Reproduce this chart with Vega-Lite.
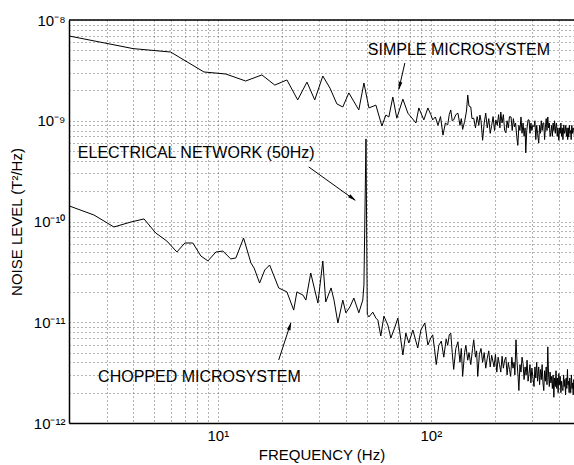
{
  "$schema": "https://vega.github.io/schema/vega-lite/v6.json",
  "autosize": {"type": "none"},
  "padding": {"left": 69, "top": 20, "right": 0, "bottom": 42},
  "width": 505,
  "height": 403,
  "background": "white",
  "config": {
    "view": {"stroke": null},
    "font": "Liberation Sans",
    "axis": {"labelFont": "Liberation Sans", "titleFont": "Liberation Sans", "labelColor": "black", "titleColor": "black", "titleFontWeight": "normal"}
  },
  "datasets": {
    "simple": [
      {"f":2,"v":6.94e-9},{"f":4.0,"v":5.2e-9},{"f":6.0,"v":4.81e-9},{"f":8.6,"v":3.05e-9},{"f":10.9,"v":2.91e-9},{"f":13.5,"v":2.48e-9},{"f":16.1,"v":2.85e-9},{"f":18.5,"v":2.26e-9},{"f":21.1,"v":2.54e-9},{"f":23.7,"v":1.61e-9},{"f":26.2,"v":2.42e-9},{"f":28.5,"v":1.61e-9},{"f":31.1,"v":2.78e-9},{"f":33.6,"v":2.11e-9},{"f":36.2,"v":1.47e-9},{"f":38.6,"v":1.37e-9},{"f":41.2,"v":1.89e-9},{"f":45.9,"v":1.28e-9},{"f":48.5,"v":2.37e-9},{"f":51.2,"v":1.34e-9},{"f":55.2,"v":1.43e-9},{"f":58.9,"v":8.87e-10},{"f":61.5,"v":1.14e-9},{"f":63.5,"v":1.09e-9},{"f":66.3,"v":1.72e-9},{"f":69.2,"v":1.06e-9},{"f":73.9,"v":1.64e-9},{"f":78.0,"v":1.19e-9},{"f":85.1,"v":9.5e-10},{"f":87.8,"v":1.34e-9},{"f":92.7,"v":1.02e-9},{"f":96.8,"v":1.34e-9},
      {"f":100,"v":1.15e-9},{"f":102,"v":1.02e-9},{"f":105,"v":1.09e-9},{"f":108,"v":9.0e-10},{"f":111,"v":1.10e-9},{"f":114,"v":7.2e-10},{"f":117,"v":9.5e-10},{"f":120,"v":9.1e-10},{"f":122,"v":1.15e-9},{"f":124,"v":1.28e-9},{"f":126,"v":1.0e-9},{"f":128,"v":1.02e-9},{"f":131,"v":1.15e-9},{"f":134,"v":1.19e-9},{"f":137,"v":9.0e-10},{"f":139,"v":1.05e-9},{"f":141,"v":8.2e-10},{"f":144,"v":9.8e-10},{"f":147,"v":1.25e-9},{"f":149,"v":1.8e-9},{"f":151,"v":1.4e-9},{"f":154,"v":1.37e-9},{"f":156,"v":1.05e-9},{"f":159,"v":1.06e-9},{"f":162,"v":8.5e-10},{"f":165,"v":1.1e-9},{"f":168,"v":9.0e-10},{"f":170,"v":1.14e-9},{"f":172,"v":1.0e-9},{"f":175,"v":6.4e-10},{"f":178,"v":9.5e-10},{"f":181,"v":1.19e-9},{"f":184,"v":8.5e-10},{"f":187,"v":1.05e-9},{"f":190,"v":7.5e-10},{"f":193,"v":9.0e-10},{"f":196,"v":1.1e-9},{"f":199,"v":8.0e-10},{"f":202,"v":1.02e-9},{"f":205,"v":9.0e-10},{"f":208,"v":1.15e-9},{"f":211,"v":8.5e-10},{"f":213,"v":1.22e-9},{"f":216,"v":9.5e-10},{"f":219,"v":1.15e-9},{"f":222,"v":8.0e-10},{"f":225,"v":7.6e-10},{"f":228,"v":1.0e-9},{"f":231,"v":8.5e-10},{"f":234,"v":1.1e-9},{"f":238,"v":1.09e-9},{"f":241,"v":8.0e-10},{"f":244,"v":1.05e-9},{"f":247,"v":8.7e-10},{"f":250,"v":9.5e-10},{"f":253,"v":7.0e-10},{"f":256,"v":5.7e-10},{"f":259,"v":9.0e-10},{"f":262,"v":8.0e-10},{"f":265,"v":1.09e-9},{"f":268,"v":7.5e-10},{"f":271,"v":9.5e-10},{"f":274,"v":7.0e-10},{"f":277,"v":8.5e-10},{"f":279,"v":4.8e-10},{"f":282,"v":8.0e-10},{"f":286,"v":1.02e-9},{"f":289,"v":1.02e-9},{"f":292,"v":7.5e-10},{"f":295,"v":9.5e-10},{"f":298,"v":8.0e-10},{"f":301,"v":9.0e-10},{"f":305,"v":8.7e-10},{"f":308,"v":1.0e-9},{"f":311,"v":6.5e-10},{"f":314,"v":9.0e-10},{"f":317,"v":7.5e-10},{"f":321,"v":6.0e-10},{"f":324,"v":9.0e-10},{"f":327,"v":7.5e-10},{"f":330,"v":1.0e-9},{"f":333,"v":8.0e-10},{"f":336,"v":9.5e-10},{"f":339,"v":9.5e-10},{"f":342,"v":6.5e-10},{"f":345,"v":8.5e-10},{"f":348,"v":1.05e-9},{"f":351,"v":8.0e-10},{"f":354,"v":1.09e-9},{"f":357,"v":8.5e-10},{"f":360,"v":9.5e-10},{"f":363,"v":7.0e-10},{"f":366,"v":7.6e-10},{"f":369,"v":9.0e-10},{"f":372,"v":7.0e-10},{"f":375,"v":9.5e-10},{"f":378,"v":8.0e-10},{"f":381,"v":1.0e-9},{"f":384,"v":7.5e-10},{"f":386,"v":8.7e-10},{"f":389,"v":9.5e-10},{"f":392,"v":7.0e-10},{"f":395,"v":8.5e-10},{"f":399,"v":6.4e-10},{"f":402,"v":8.5e-10},{"f":405,"v":7.5e-10},{"f":408,"v":9.5e-10},{"f":411,"v":7.0e-10},{"f":414,"v":8.5e-10},{"f":417,"v":6.5e-10},{"f":421,"v":9.1e-10},{"f":424,"v":7.5e-10},{"f":427,"v":8.0e-10},{"f":430,"v":9.0e-10},{"f":433,"v":7.0e-10},{"f":436,"v":8.5e-10},{"f":439,"v":6.5e-10},{"f":442,"v":8.5e-10},{"f":444,"v":6.9e-10},{"f":447,"v":9.0e-10},{"f":450,"v":7.5e-10},{"f":453,"v":8.0e-10},{"f":456,"v":6.5e-10},{"f":459,"v":9.0e-10},{"f":462,"v":7.5e-10},{"f":465,"v":8.5e-10},{"f":469,"v":8.1e-10},{"f":472,"v":7.0e-10}
    ],
    "chopped": [
      {"f":2,"v":1.43e-10},{"f":2.62,"v":1.16e-10},{"f":3.25,"v":8.82e-11},{"f":3.91,"v":9.89e-11},{"f":4.5,"v":1.06e-10},{"f":5.11,"v":7.69e-11},{"f":5.76,"v":6.4e-11},{"f":6.42,"v":4.98e-11},{"f":7.0,"v":6.12e-11},{"f":7.63,"v":6.12e-11},{"f":8.32,"v":4.55e-11},{"f":8.98,"v":4.06e-11},{"f":9.79,"v":4.98e-11},{"f":10.55,"v":5.09e-11},{"f":11.5,"v":4.25e-11},{"f":12.15,"v":4.35e-11},{"f":13.2,"v":6.86e-11},{"f":14.3,"v":3.87e-11},{"f":14.8,"v":3.45e-11},{"f":15.7,"v":2.45e-11},{"f":16.6,"v":3.3e-11},{"f":17.5,"v":3.7e-11},{"f":18.5,"v":2.75e-11},{"f":19.3,"v":2.19e-11},{"f":20.2,"v":2.09e-11},{"f":21.1,"v":2.0e-11},{"f":22.7,"v":1.32e-11},{"f":23.5,"v":2.0e-11},{"f":25.1,"v":1.86e-11},{"f":25.9,"v":1.66e-11},{"f":27.3,"v":3.08e-11},{"f":28.5,"v":2.09e-11},{"f":29.5,"v":1.55e-11},{"f":31.1,"v":4.06e-11},{"f":32.1,"v":1.59e-11},{"f":34.0,"v":2.19e-11},{"f":35.1,"v":1.66e-11},{"f":36.6,"v":9.84e-12},{"f":38.6,"v":1.66e-11},{"f":39.9,"v":1.24e-11},{"f":41.7,"v":1.42e-11},{"f":43.5,"v":1.74e-11},{"f":45.9,"v":1.24e-11},{"f":47.9,"v":1.66e-11},{"f":48.5,"v":2.34e-11},{"f":49.6,"v":6.6e-10},{"f":50.3,"v":1.2e-11},{"f":51.2,"v":1.13e-11},{"f":53.4,"v":1.26e-11},{"f":55.2,"v":1.1e-11},{"f":56.4,"v":1.05e-11},{"f":58.2,"v":7.3e-12},{"f":60.2,"v":1.15e-11},{"f":62.8,"v":9.4e-12},{"f":64.9,"v":6.98e-12},{"f":67.8,"v":8.97e-12},{"f":70.0,"v":1.1e-11},{"f":73.9,"v":4.73e-12},{"f":76.3,"v":7.82e-12},{"f":78.8,"v":6.22e-12},{"f":82.3,"v":8.38e-12},{"f":86.8,"v":5.55e-12},{"f":89.8,"v":8.38e-12},{"f":93.7,"v":9.84e-12},{"f":96.8,"v":5.94e-12},
      {"f":100,"v":7.0e-12},{"f":102,"v":7.5e-12},{"f":104,"v":5.5e-12},{"f":106,"v":3.8e-12},{"f":109,"v":5.9e-12},{"f":112,"v":6.5e-12},{"f":115,"v":4.5e-12},{"f":118,"v":6.8e-12},{"f":120,"v":5.9e-12},{"f":122,"v":7.5e-12},{"f":124,"v":7.8e-12},{"f":126,"v":5.0e-12},{"f":128,"v":3.4e-12},{"f":131,"v":5.5e-12},{"f":134,"v":6.4e-12},{"f":137,"v":4.0e-12},{"f":139,"v":5.5e-12},{"f":141,"v":2.9e-12},{"f":144,"v":5.0e-12},{"f":146,"v":5.9e-12},{"f":149,"v":4.2e-12},{"f":151,"v":5.0e-12},{"f":154,"v":3.8e-12},{"f":157,"v":5.5e-12},{"f":159,"v":6.7e-12},{"f":162,"v":4.5e-12},{"f":164,"v":5.2e-12},{"f":166,"v":2.9e-12},{"f":169,"v":4.8e-12},{"f":172,"v":5.5e-12},{"f":175,"v":4.0e-12},{"f":178,"v":5.0e-12},{"f":181,"v":3.5e-12},{"f":184,"v":4.4e-12},{"f":187,"v":5.2e-12},{"f":190,"v":3.6e-12},{"f":193,"v":4.7e-12},{"f":196,"v":4.0e-12},{"f":198,"v":3.6e-12},{"f":201,"v":4.8e-12},{"f":204,"v":3.2e-12},{"f":207,"v":4.5e-12},{"f":210,"v":3.8e-12},{"f":213,"v":3.2e-12},{"f":216,"v":4.6e-12},{"f":219,"v":3.5e-12},{"f":222,"v":4.2e-12},{"f":225,"v":4.5e-12},{"f":228,"v":3.0e-12},{"f":231,"v":4.0e-12},{"f":234,"v":3.4e-12},{"f":237,"v":2.9e-12},{"f":240,"v":4.5e-12},{"f":243,"v":3.5e-12},{"f":246,"v":4.0e-12},{"f":248,"v":3.0e-12},{"f":251,"v":6.7e-12},{"f":254,"v":4.0e-12},{"f":257,"v":2.8e-12},{"f":259,"v":2.1e-12},{"f":262,"v":3.8e-12},{"f":265,"v":3.2e-12},{"f":268,"v":4.5e-12},{"f":271,"v":3.9e-12},{"f":274,"v":2.7e-12},{"f":277,"v":3.6e-12},{"f":280,"v":3.0e-12},{"f":283,"v":4.2e-12},{"f":286,"v":2.6e-12},{"f":289,"v":3.1e-12},{"f":292,"v":3.8e-12},{"f":295,"v":2.5e-12},{"f":298,"v":3.5e-12},{"f":301,"v":2.9e-12},{"f":305,"v":2.3e-12},{"f":308,"v":3.6e-12},{"f":311,"v":2.8e-12},{"f":314,"v":4.0e-12},{"f":317,"v":2.6e-12},{"f":321,"v":3.6e-12},{"f":324,"v":2.4e-12},{"f":327,"v":3.4e-12},{"f":330,"v":2.7e-12},{"f":333,"v":3.8e-12},{"f":336,"v":2.5e-12},{"f":339,"v":2.1e-12},{"f":342,"v":3.3e-12},{"f":345,"v":2.6e-12},{"f":348,"v":3.6e-12},{"f":351,"v":2.4e-12},{"f":354,"v":5.7e-12},{"f":357,"v":3.0e-12},{"f":360,"v":2.3e-12},{"f":363,"v":3.2e-12},{"f":366,"v":2.5e-12},{"f":369,"v":2.9e-12},{"f":372,"v":2.2e-12},{"f":375,"v":3.0e-12},{"f":378,"v":1.8e-12},{"f":381,"v":2.8e-12},{"f":384,"v":2.3e-12},{"f":387,"v":3.3e-12},{"f":390,"v":2.2e-12},{"f":393,"v":2.8e-12},{"f":396,"v":2.0e-12},{"f":399,"v":3.1e-12},{"f":402,"v":2.4e-12},{"f":405,"v":2.9e-12},{"f":408,"v":2.0e-12},{"f":411,"v":2.6e-12},{"f":414,"v":2.2e-12},{"f":417,"v":2.1e-12},{"f":420,"v":3.0e-12},{"f":423,"v":2.3e-12},{"f":426,"v":2.7e-12},{"f":429,"v":1.9e-12},{"f":432,"v":2.8e-12},{"f":435,"v":2.2e-12},{"f":438,"v":3.4e-12},{"f":440,"v":2.4e-12},{"f":443,"v":2.6e-12},{"f":446,"v":2.0e-12},{"f":449,"v":2.8e-12},{"f":452,"v":2.1e-12},{"f":454,"v":2.0e-12},{"f":457,"v":3.0e-12},{"f":460,"v":2.2e-12},{"f":463,"v":2.5e-12},{"f":466,"v":1.9e-12},{"f":469,"v":2.7e-12},{"f":472,"v":2.2e-12}
    ],
    "arrows": [
      {"f":75.5,"v":3.74e-9,"f2":70.8,"v2":2.07e-9},
      {"f":26.7,"v":3.48e-10,"f2":44.0,"v2":1.63e-10},
      {"f":19.3,"v":4.22e-12,"f2":22.0,"v2":9.84e-12}
    ],
    "notes": [
      {"f":50.6,"v":5.03e-9,"label":"SIMPLE MICROSYSTEM"},
      {"f":2.2,"v":4.79e-10,"label":"ELECTRICAL NETWORK (50Hz)"},
      {"f":2.74,"v":2.86e-12,"label":"CHOPPED MICROSYSTEM"}
    ]
  },
  "layer": [
    {
      "data": {"name": "simple"},
      "mark": {"type": "line", "color": "black", "strokeWidth": 1, "clip": true},
      "encoding": {
        "x": {
          "field": "f", "type": "quantitative",
          "scale": {"type": "log", "domain": [2, 470], "nice": false, "zero": false},
          "axis": {
            "title": "FREQUENCY (Hz)",
            "values": [2,3,4,5,6,7,8,9,10,20,30,40,50,60,70,80,90,100,200,300,400],
            "labelExpr": "datum.value == 10 ? '10¹' : datum.value == 100 ? '10²' : ''",
            "labelOverlap": false, "labelFlush": false,
            "labelFontSize": 15, "labelPadding": 5,
            "titleFontSize": 15, "titlePadding": 4,
            "ticks": false,
            "grid": true, "gridDash": [1, 3], "gridColor": "#666", "gridWidth": 1,
            "domain": true, "domainColor": "black", "domainWidth": 1.5
          }
        },
        "y": {
          "field": "v", "type": "quantitative",
          "scale": {"type": "log", "domain": [1e-12, 1e-8], "nice": false, "zero": false},
          "axis": {
            "title": "NOISE LEVEL (T²/Hz)",
            "values": [1e-12,2e-12,3e-12,4e-12,5e-12,6e-12,7e-12,8e-12,9e-12,1e-11,2e-11,3e-11,4e-11,5e-11,6e-11,7e-11,8e-11,9e-11,1e-10,2e-10,3e-10,4e-10,5e-10,6e-10,7e-10,8e-10,9e-10,1e-9,2e-9,3e-9,4e-9,5e-9,6e-9,7e-9,8e-9,9e-9,1e-8],
            "labelExpr": "abs(datum.value/1e-8-1) < 0.001 ? '10⁻⁸' : abs(datum.value/1e-9-1) < 0.001 ? '10⁻⁹' : abs(datum.value/1e-10-1) < 0.001 ? '10⁻¹⁰' : abs(datum.value/1e-11-1) < 0.001 ? '10⁻¹¹' : abs(datum.value/1e-12-1) < 0.001 ? '10⁻¹²' : ''",
            "labelOverlap": false, "labelFlush": false,
            "labelFontSize": 15, "labelPadding": 4,
            "titleFontSize": 15, "titlePadding": 9,
            "ticks": false,
            "grid": true, "gridDash": [1, 3], "gridColor": "#666", "gridWidth": 1,
            "domain": true, "domainColor": "black", "domainWidth": 1.5
          }
        }
      }
    },
    {
      "data": {"name": "chopped"},
      "mark": {"type": "line", "color": "black", "strokeWidth": 1, "clip": true},
      "encoding": {
        "x": {"field": "f", "type": "quantitative"},
        "y": {"field": "v", "type": "quantitative"}
      }
    },
    {
      "data": {"values": [{"v": 1e-8}]},
      "mark": {"type": "rule", "color": "black", "strokeWidth": 1.5},
      "encoding": {"y": {"field": "v", "type": "quantitative"}}
    },
    {
      "data": {"name": "arrows"},
      "mark": {"type": "rule", "color": "black", "strokeWidth": 1},
      "encoding": {
        "x": {"field": "f", "type": "quantitative"},
        "y": {"field": "v", "type": "quantitative"},
        "x2": {"field": "f2"},
        "y2": {"field": "v2"}
      }
    },
    {
      "data": {"values": [{"f": 71.3, "v": 2.21e-9}]},
      "mark": {"type": "point", "shape": "M0,-1L0.45,1L-0.45,1Z", "filled": true, "fill": "black", "stroke": null, "opacity": 1, "size": 70, "angle": 193},
      "encoding": {"x": {"field": "f", "type": "quantitative"}, "y": {"field": "v", "type": "quantitative"}}
    },
    {
      "data": {"values": [{"f": 42.9, "v": 1.70e-10}]},
      "mark": {"type": "point", "shape": "M0,-1L0.45,1L-0.45,1Z", "filled": true, "fill": "black", "stroke": null, "opacity": 1, "size": 70, "angle": 126},
      "encoding": {"x": {"field": "f", "type": "quantitative"}, "y": {"field": "v", "type": "quantitative"}}
    },
    {
      "data": {"values": [{"f": 21.8, "v": 9.2e-12}]},
      "mark": {"type": "point", "shape": "M0,-1L0.45,1L-0.45,1Z", "filled": true, "fill": "black", "stroke": null, "opacity": 1, "size": 70, "angle": 18},
      "encoding": {"x": {"field": "f", "type": "quantitative"}, "y": {"field": "v", "type": "quantitative"}}
    },
    {
      "data": {"name": "notes"},
      "mark": {"type": "text", "align": "left", "baseline": "middle", "fontSize": 16, "font": "Liberation Sans", "color": "black"},
      "encoding": {
        "x": {"field": "f", "type": "quantitative"},
        "y": {"field": "v", "type": "quantitative"},
        "text": {"field": "label"}
      }
    }
  ]
}
